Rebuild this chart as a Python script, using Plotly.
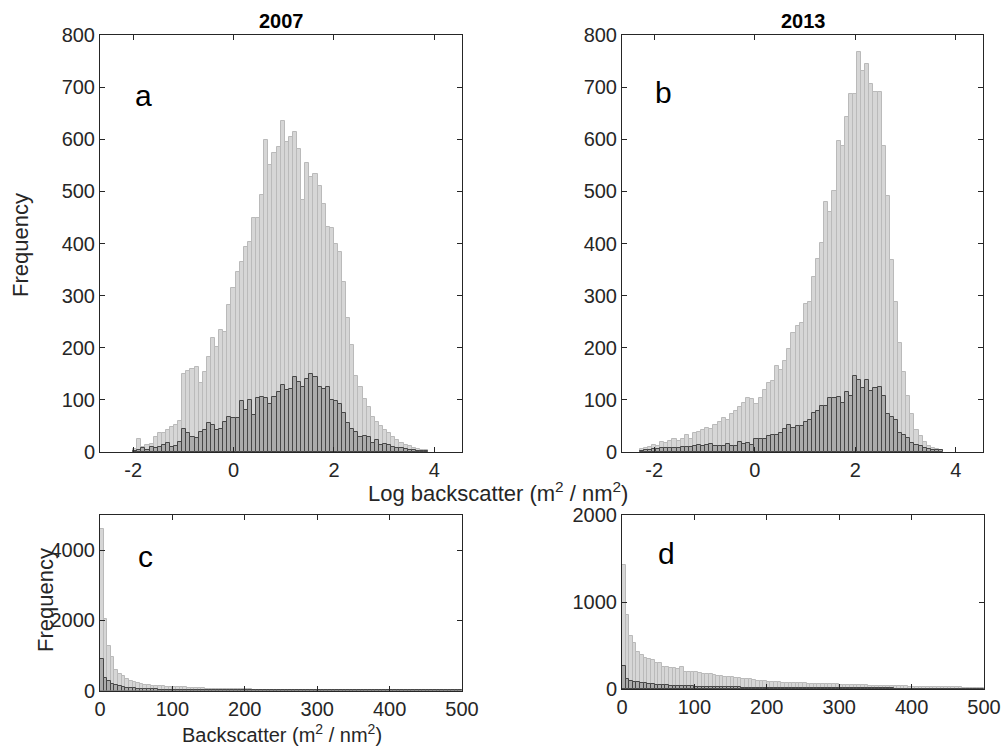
import plotly.graph_objects as go

# ---------------- data ----------------
# Log10 backscatter histograms (panels a, b)
LOG_BIN_WIDTH = 0.0816
a_bin_start = -2.0
a_all = [5, 24, 10, 13, 16, 28, 37, 36, 42, 48,
         52, 60, 150, 155, 160, 164, 132, 154, 183, 219,
         202, 234, 231, 282, 314, 346, 365, 394, 403, 448,
         448, 493, 598, 550, 573, 585, 635, 595, 605, 614,
         582, 483, 555, 528, 534, 510, 476, 432, 429, 400,
         384, 327, 258, 205, 146, 125, 101, 87, 68, 58,
         49, 42, 36, 29, 23, 17, 13, 12, 7, 5,
         4, 3]
a_sub = [2, 4, 7, 4, 10, 7, 10, 13, 17, 10,
         12, 20, 45, 36, 29, 26, 39, 42, 55, 52,
         42, 45, 58, 68, 65, 65, 97, 81, 100, 71,
         103, 105, 103, 93, 106, 116, 128, 119, 120, 144,
         135, 125, 141, 150, 144, 125, 120, 124, 100, 97,
         93, 74, 56, 45, 39, 29, 31, 28, 17, 23,
         13, 15, 13, 10, 8, 7, 5, 4, 3, 2,
         1, 1]

b_bin_start = -2.29
b_all = [5, 8, 10, 13, 11, 19, 18, 22, 24, 22,
         24, 33, 25, 36, 38, 42, 46, 44, 52, 58,
         66, 62, 72, 78, 86, 94, 103, 101, 92, 104,
         118, 133, 136, 165, 158, 174, 198, 228, 242, 248,
         283, 288, 336, 371, 401, 479, 460, 501, 597, 588,
         642, 687, 687, 767, 730, 745, 706, 690, 690, 588,
         492, 369, 287, 210, 153, 107, 72, 43, 30, 20,
         11, 8, 5, 3]
b_sub = [2, 4, 4, 5, 6, 8, 8, 8, 8, 8,
         9, 10, 10, 11, 13, 12, 14, 15, 11, 11,
         12, 15, 12, 12, 19, 16, 17, 14, 24, 24,
         25, 30, 32, 32, 36, 44, 51, 46, 49, 49,
         57, 62, 75, 78, 88, 88, 104, 104, 106, 94,
         115, 107, 145, 139, 123, 139, 117, 123, 125, 107,
         72, 67, 62, 36, 33, 27, 17, 14, 11, 8,
         6, 4, 4, 3]

# Linear backscatter histograms (panels c, d)
LIN_BIN_WIDTH = 5
lin_bin_start = 0
c_all = [4600, 2050, 1270, 960, 590, 470, 400, 325, 285, 240,
         210, 190, 165, 150, 140, 125, 120, 115, 110, 105,
         100, 95, 92, 88, 80, 76, 72, 66, 60, 57,
         55, 52, 48, 45, 42, 40, 38, 36, 34, 32,
         30, 29, 28, 27, 26, 25, 24, 23, 22, 21,
         20, 19, 18, 18, 17, 16, 16, 15, 14, 14,
         13, 13, 12, 12, 11, 11, 10, 10, 10, 9,
         9, 9, 8, 8, 8, 7, 7, 7, 6, 6,
         6, 6, 5, 5, 5, 5, 4, 4, 4, 4,
         4, 3, 3, 3, 3, 3, 3, 2, 2, 2]
c_sub = [900, 360, 260, 190, 150, 120, 100, 85, 72, 62,
         55, 48, 42, 38, 34, 30, 28, 25, 23, 21,
         19, 18, 17, 16, 15, 14, 13, 12, 11, 10,
         10, 9, 9, 8, 8, 7, 7, 6, 6, 6,
         5, 5, 5, 4, 4, 4, 4, 3, 3, 3,
         3, 3, 3, 2, 2, 2, 2, 2, 2, 2,
         2, 2, 1, 1, 1, 1, 1, 1, 1, 1,
         1, 1, 1, 1, 1, 1, 1, 1, 1, 1,
         1, 1, 1, 1, 1, 1, 1, 1, 1, 1,
         1, 1, 1, 1, 1, 1, 1, 1, 1, 1]
d_all = [1430, 846, 611, 527, 430, 392, 354, 340, 334, 296,
         296, 257, 257, 238, 238, 230, 250, 200, 200, 195,
         190, 181, 178, 173, 170, 160, 155, 150, 142, 140,
         135, 125, 123, 120, 115, 110, 100, 95, 90, 88,
         85, 80, 78, 75, 74, 72, 70, 68, 66, 65,
         64, 62, 60, 60, 58, 56, 55, 54, 52, 52,
         50, 50, 48, 48, 46, 45, 44, 42, 40, 40,
         38, 38, 36, 35, 34, 33, 32, 30, 30, 28,
         28, 26, 25, 25, 24, 23, 22, 22, 20, 20,
         20, 19, 18, 18, 17, 17, 16, 15, 15, 14]
d_sub = [270, 110, 90, 80, 75, 70, 68, 62, 55, 50,
         48, 45, 42, 40, 38, 36, 34, 32, 30, 29,
         28, 27, 26, 25, 24, 23, 22, 21, 20, 20,
         19, 18, 18, 17, 17, 16, 16, 15, 15, 14,
         14, 13, 13, 13, 12, 12, 12, 11, 11, 11,
         10, 10, 10, 10, 9, 9, 9, 9, 8, 8,
         8, 8, 8, 7, 7, 7, 7, 7, 6, 6,
         6, 6, 6, 6, 6, 5, 5, 5, 5, 5,
         5, 5, 5, 4, 4, 4, 4, 4, 4, 4,
         4, 4, 3, 3, 3, 3, 3, 3, 3, 3]

log_ticks = [-2, 0, 2, 4]
log_tick_text = ["-2", "0", "2", "4"]
panel_titles = ["2007", "2013"]
panel_letters = ["a", "b", "c", "d"]

# ---------------- styling ----------------
W, H = 1005, 750
LIGHT_FILL, LIGHT_LINE = "#d6d6d6", "#bababa"
DARK_FILL, DARK_LINE = "#ababab", "#474747"
AX = "#262626"
FONT = "Liberation Sans, Arial, Helvetica, sans-serif"

fig = go.Figure()


def add_hist(vals, start, width, xa, ya, fill, line):
    fig.add_trace(go.Bar(
        y=vals, x0=start + width / 2, dx=width, width=width,
        marker=dict(color=fill, line=dict(color=line, width=1)),
        xaxis=xa, yaxis=ya, showlegend=False, hoverinfo="x+y"))


add_hist(a_all, a_bin_start, LOG_BIN_WIDTH, "x", "y", LIGHT_FILL, LIGHT_LINE)
add_hist(a_sub, a_bin_start, LOG_BIN_WIDTH, "x", "y", DARK_FILL, DARK_LINE)
add_hist(b_all, b_bin_start, LOG_BIN_WIDTH, "x2", "y2", LIGHT_FILL, LIGHT_LINE)
add_hist(b_sub, b_bin_start, LOG_BIN_WIDTH, "x2", "y2", DARK_FILL, DARK_LINE)
add_hist(c_all, lin_bin_start, LIN_BIN_WIDTH, "x3", "y3", LIGHT_FILL, LIGHT_LINE)
add_hist(c_sub, lin_bin_start, LIN_BIN_WIDTH, "x3", "y3", DARK_FILL, DARK_LINE)
add_hist(d_all, lin_bin_start, LIN_BIN_WIDTH, "x4", "y4", LIGHT_FILL, LIGHT_LINE)
add_hist(d_sub, lin_bin_start, LIN_BIN_WIDTH, "x4", "y4", DARK_FILL, DARK_LINE)


def px(x):
    return x / W


def py(y):
    return 1 - y / H


common = dict(showline=True, linecolor=AX, linewidth=1, mirror="ticks",
              ticks="inside", ticklen=5, tickcolor=AX, tickwidth=1,
              showgrid=False, zeroline=False, automargin=False,
              ticklabeloverflow="allow",
              tickfont=dict(family=FONT, size=20, color=AX))

fig.update_layout(
    width=W, height=H, margin=dict(l=0, r=0, t=0, b=0, pad=0, autoexpand=False),
    plot_bgcolor="white", paper_bgcolor="white",
    barmode="overlay", bargap=0, showlegend=False,
    font=dict(family=FONT, size=20, color=AX),
    xaxis=dict(domain=[px(100), px(462)], range=[-2.66, 4.55],
               tickvals=log_ticks, ticktext=log_tick_text, anchor="y", **common),
    yaxis=dict(domain=[py(452), py(35)], range=[0, 800], dtick=100,
               anchor="x", **common),
    xaxis2=dict(domain=[px(622), px(983)], range=[-2.64, 4.54],
                tickvals=log_ticks, ticktext=log_tick_text, anchor="y2", **common),
    yaxis2=dict(domain=[py(452), py(35)], range=[0, 800], dtick=100,
                anchor="x2", **common),
    xaxis3=dict(domain=[px(100), px(462)], range=[0, 500], dtick=100,
                anchor="y3", **common),
    yaxis3=dict(domain=[py(690.5), py(515)], range=[0, 5000],
                tickvals=[0, 2000, 4000], anchor="x3", **common),
    xaxis4=dict(domain=[px(622), px(984)], range=[0, 500], dtick=100,
                anchor="y4", **common),
    yaxis4=dict(domain=[py(689), py(515)], range=[0, 2000],
                tickvals=[0, 1000, 2000], anchor="x4", **common),
)


def note(text, x, y, size, color=AX, angle=0):
    fig.add_annotation(text=text, x=px(x), y=py(y), xref="paper", yref="paper",
                       xanchor="center", yanchor="middle", showarrow=False,
                       textangle=angle, font=dict(family=FONT, size=size, color=color))


note("<b>%s</b>" % panel_titles[0], 281, 21, 20, "black")
note("<b>%s</b>" % panel_titles[1], 803, 21, 20, "black")
for letter, (lx, ly) in zip(panel_letters, [(143, 95), (663, 92), (145, 556), (666, 553)]):
    note(letter, lx, ly, 30, "black")

note("Frequency", 20, 245, 22, angle=-90)
note("Frequency", 45, 600, 22, angle=-90)
note("Log backscatter (m<sup>2</sup> / nm<sup>2</sup>)", 498, 492, 22)
note("Backscatter (m<sup>2</sup> / nm<sup>2</sup>)", 282, 733, 20)

# remove the default 8px page margin so the figure fills the 1005x750 window
fig.write_html("out.html",
               config={"displayModeBar": False},
               post_script="document.body.style.margin='0';"
                           "document.body.style.overflow='hidden';")
